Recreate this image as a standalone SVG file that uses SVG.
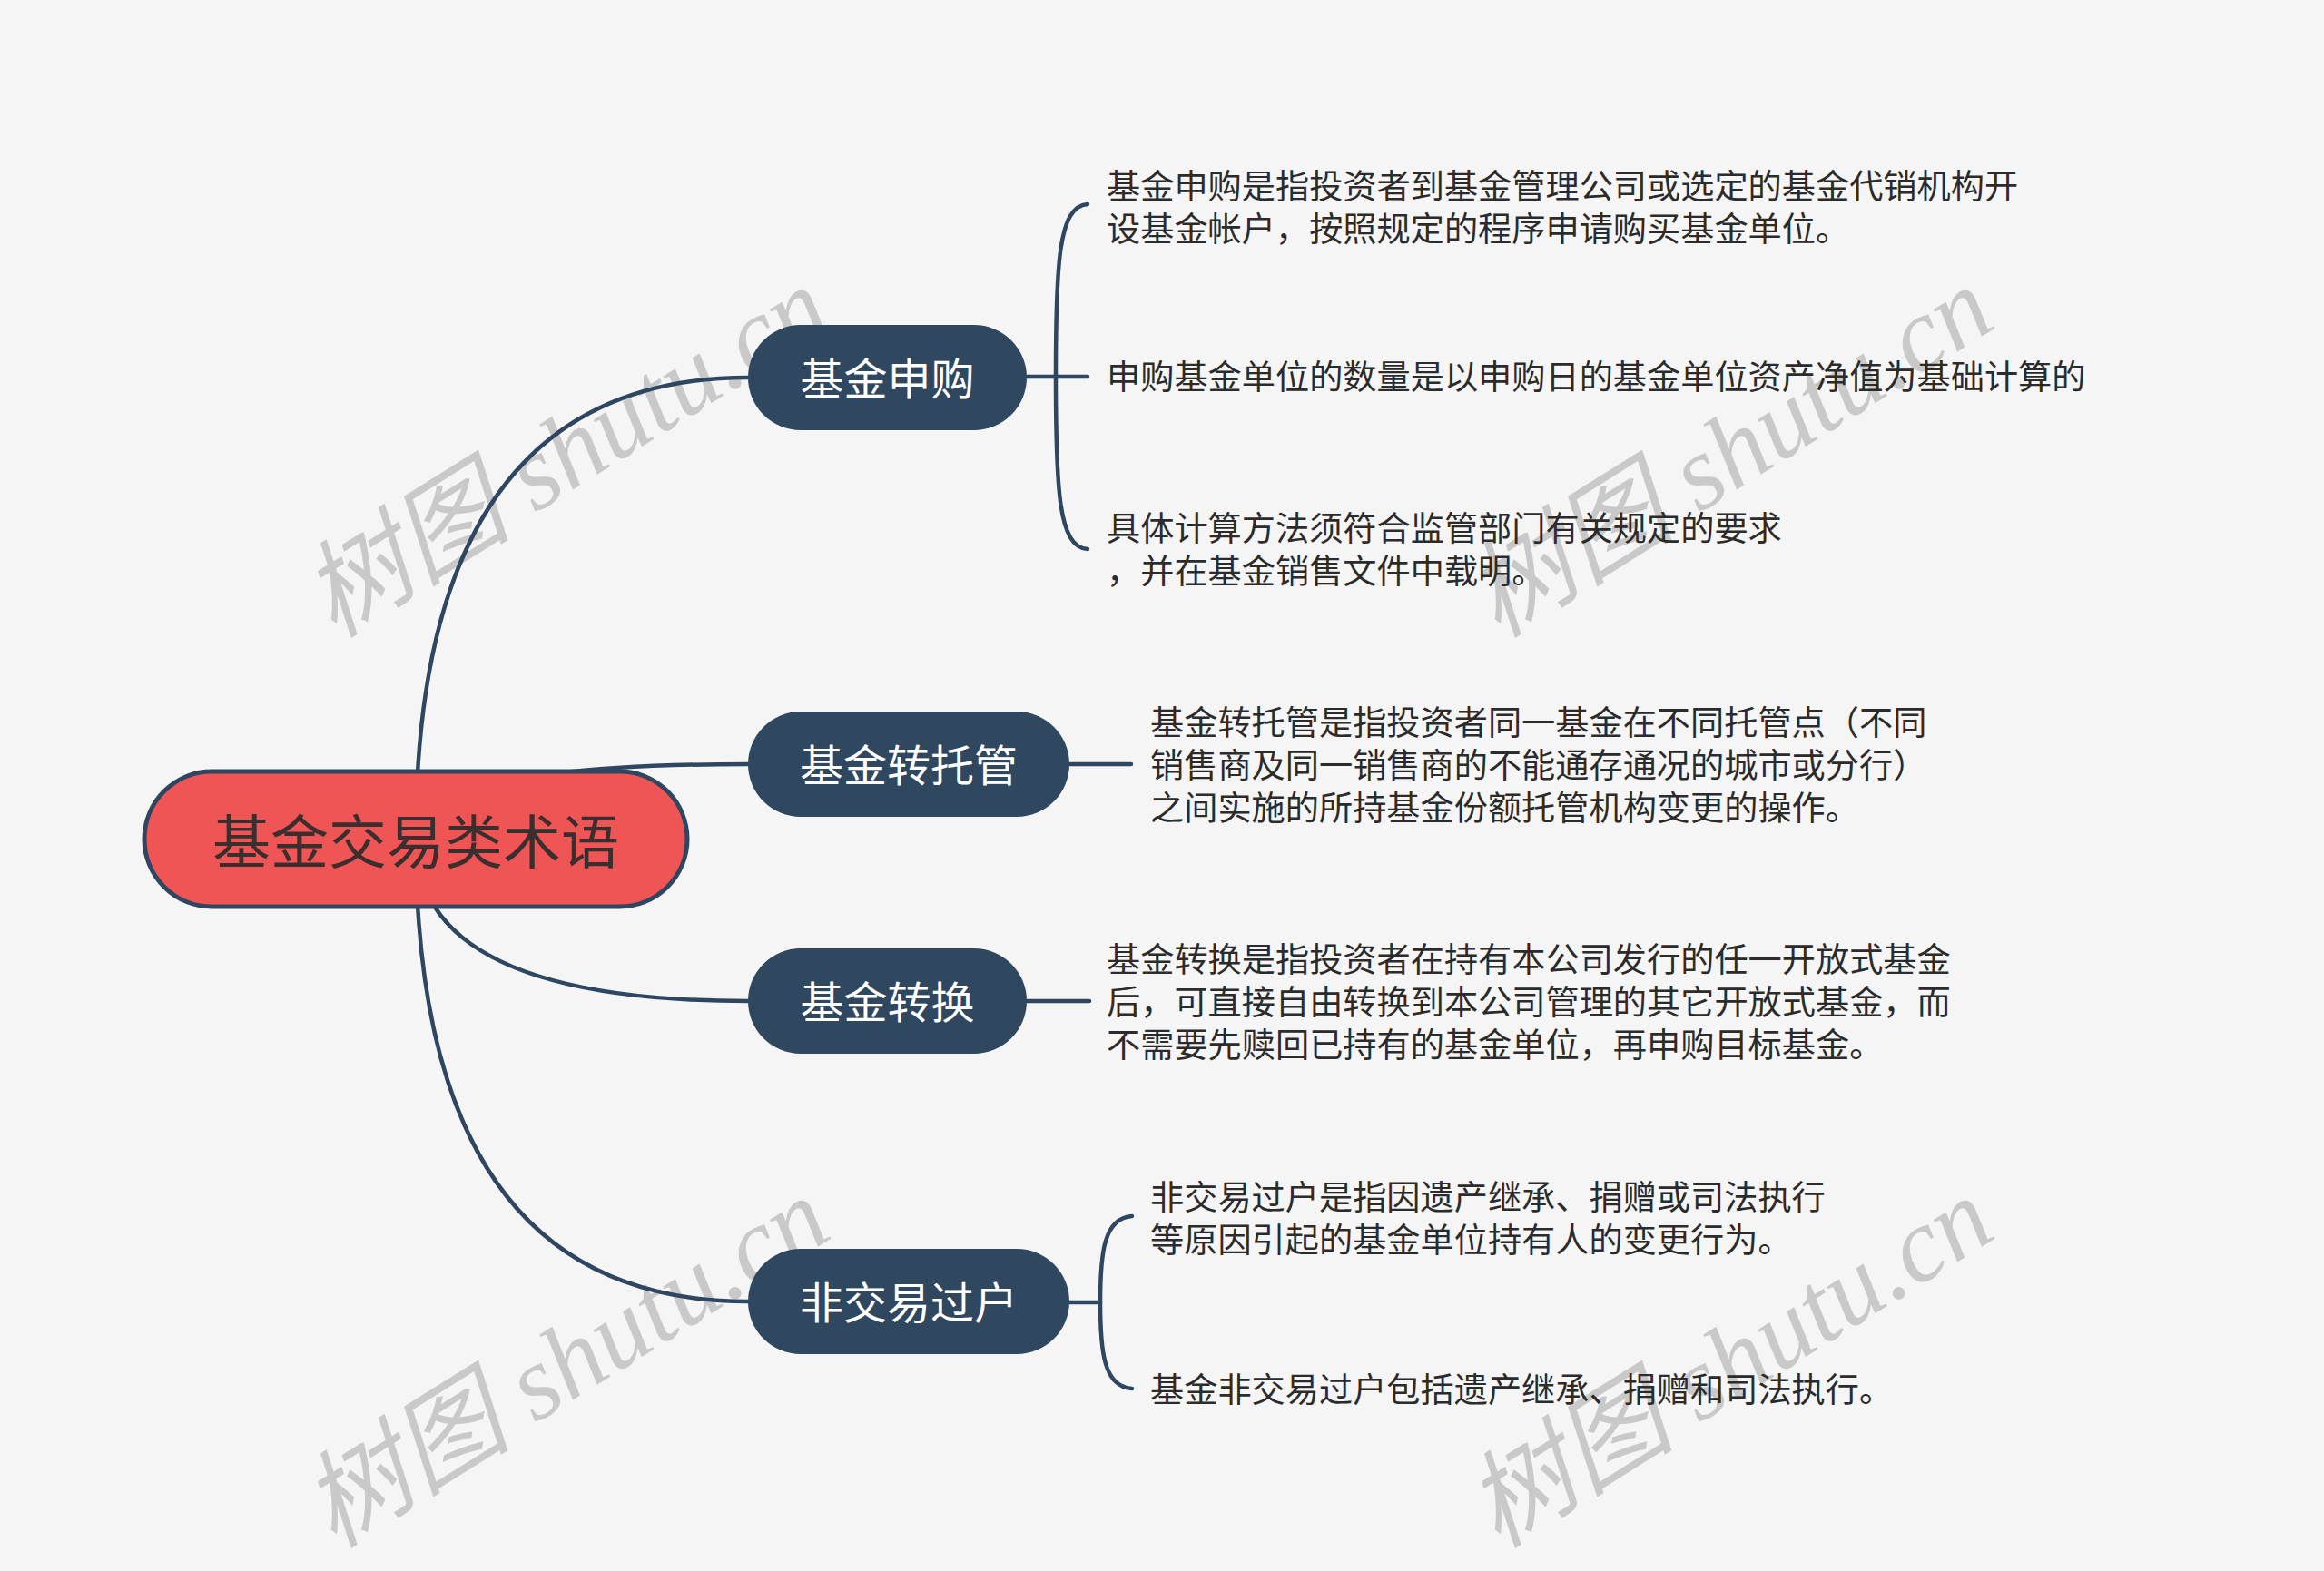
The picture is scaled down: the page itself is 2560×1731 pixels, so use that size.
<svg xmlns="http://www.w3.org/2000/svg" width="2560" height="1731" viewBox="0 0 2560 1731">
<style>
.bg{fill:#F5F5F5}
.wm{font-family:"Liberation Serif","Noto Sans CJK SC",serif;font-style:italic;font-size:116px;fill:#C9C9C9}
.ln{fill:none;stroke:#2E4660;stroke-width:4.5;stroke-linecap:round}
.root{fill:#EF5555;stroke:#2E4660;stroke-width:5}
.rt{font-family:"Noto Sans CJK SC","Liberation Sans",sans-serif;font-size:64px;fill:#3A2E2E;text-anchor:middle;dominant-baseline:central}
.sub{fill:#2F475F}
.st{font-family:"Noto Sans CJK SC","Liberation Sans",sans-serif;font-size:48px;fill:#FFFFFF;text-anchor:middle;dominant-baseline:central}
.lf{font-family:"Noto Sans CJK SC","Liberation Sans",sans-serif;font-size:37.2px;fill:#2B2B2B;dominant-baseline:central}
</style>
<rect class="bg" x="0" y="0" width="2560" height="1731"/>
<g id="watermarks">
<text class="wm" transform="translate(368,704) rotate(-32)">树图 shutu.cn</text>
<text class="wm" transform="translate(1650,704) rotate(-32)">树图 shutu.cn</text>
<text class="wm" transform="translate(368,1707) rotate(-32)">树图 shutu.cn</text>
<text class="wm" transform="translate(1650,1707) rotate(-32)">树图 shutu.cn</text>
</g>
<g id="connectors">
<path class="ln" d="M458,924 Q458,416 824,416"/>
<path class="ln" d="M458,924 Q458,842 824,842"/>
<path class="ln" d="M458,924 Q458,1103 824,1103"/>
<path class="ln" d="M458,924 Q458,1434 824,1434"/>
<path class="ln" d="M1131,415 L1198,415"/>
<path class="ln" d="M1198,225 C1166,227 1163,290 1163,415 C1163,540 1166,603 1198,605"/>
<path class="ln" d="M1178,842 L1246,842"/>
<path class="ln" d="M1131,1103 L1200,1103"/>
<path class="ln" d="M1178,1435 L1212,1435"/>
<path class="ln" d="M1247,1340 C1216,1342 1212,1380 1212,1435 C1212,1490 1216,1528 1247,1530"/>
</g>
<g id="root">
<rect class="root" x="159" y="850" width="598" height="149" rx="74.5"/>
<text class="rt" x="458" y="923">基金交易类术语</text>
</g>
<g id="n1">
<rect class="sub" x="824" y="358" width="307" height="116" rx="58"/>
<text class="st" x="977.5" y="414">基金申购</text>
</g>
<g id="n2">
<rect class="sub" x="824" y="784" width="354" height="116" rx="58"/>
<text class="st" x="1001" y="840">基金转托管</text>
</g>
<g id="n3">
<rect class="sub" x="824" y="1045" width="307" height="116" rx="58"/>
<text class="st" x="977.5" y="1101">基金转换</text>
</g>
<g id="n4">
<rect class="sub" x="824" y="1376" width="354" height="116" rx="58"/>
<text class="st" x="1001" y="1432">非交易过户</text>
</g>
<g id="l1a">
<text class="lf" x="1219" y="203">基金申购是指投资者到基金管理公司或选定的基金代销机构开</text>
<text class="lf" x="1219" y="250">设基金帐户，按照规定的程序申请购买基金单位。</text>
</g>
<g id="l1b">
<text class="lf" x="1219" y="413">申购基金单位的数量是以申购日的基金单位资产净值为基础计算的</text>
</g>
<g id="l1c">
<text class="lf" x="1219" y="580">具体计算方法须符合监管部门有关规定的要求</text>
<text class="lf" x="1219" y="627">，并在基金销售文件中载明。</text>
</g>
<g id="l2">
<text class="lf" x="1267" y="794">基金转托管是指投资者同一基金在不同托管点（不同</text>
<text class="lf" x="1267" y="841">销售商及同一销售商的不能通存通况的城市或分行）</text>
<text class="lf" x="1267" y="888">之间实施的所持基金份额托管机构变更的操作。</text>
</g>
<g id="l3">
<text class="lf" x="1219" y="1055">基金转换是指投资者在持有本公司发行的任一开放式基金</text>
<text class="lf" x="1219" y="1102">后，可直接自由转换到本公司管理的其它开放式基金，而</text>
<text class="lf" x="1219" y="1149">不需要先赎回已持有的基金单位，再申购目标基金。</text>
</g>
<g id="l4a">
<text class="lf" x="1267" y="1317">非交易过户是指因遗产继承、捐赠或司法执行</text>
<text class="lf" x="1267" y="1364">等原因引起的基金单位持有人的变更行为。</text>
</g>
<g id="l4b">
<text class="lf" x="1267" y="1529">基金非交易过户包括遗产继承、捐赠和司法执行。</text>
</g>
</svg>
